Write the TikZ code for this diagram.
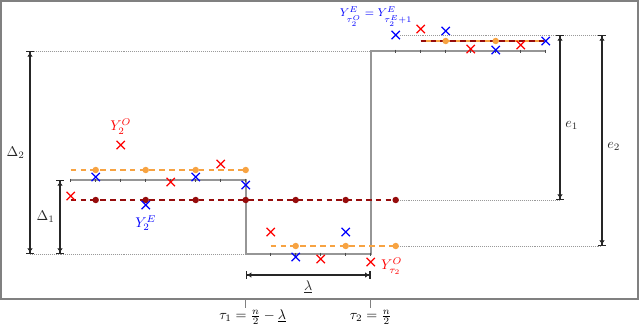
\documentclass[tikz,border=0pt]{standalone}
\usetikzlibrary{arrows.meta,shapes.misc,positioning}
\definecolor{estorange}{RGB}{247,163,66}
\definecolor{estred}{RGB}{150,12,12}
\definecolor{stepgray}{RGB}{150,150,150}
\tikzset{
  obsE/.style={cross out, draw=blue, line width=0.9pt, minimum size=5pt, inner sep=0pt},
  obsO/.style={cross out, draw=red, line width=0.9pt, minimum size=5pt, inner sep=0pt},
  gap/.style={{Bar[width=5pt]Latex[length=3pt,width=4pt]}-{Latex[length=3pt,width=4pt]Bar[width=5pt]}, line width=1pt, black!85},
  guide/.style={densely dotted, gray!80, line width=0.4pt},
  estline/.style={dash pattern=on 4pt off 3pt, line width=1pt},
}
\begin{document}
\begin{tikzpicture}[x=0.025cm, y=-0.025cm]
\useasboundingbox (0,0) rectangle (640,325);
\draw[gray, line width=0.8pt] (1,1) rectangle (638,299);

\coordinate (d2a) at (30,51);
\coordinate (d2b) at (30,254);
\coordinate (d1a) at (60,180);
\coordinate (d1b) at (60,254);
\coordinate (t1) at (245.7,299);
\coordinate (t2) at (370.7,299);
\coordinate (la) at (245.7,275);
\coordinate (lb) at (370.7,275);
\coordinate (ea) at (560,35);
\coordinate (eb) at (560,200);
\coordinate (fa) at (602,35);
\coordinate (fb) at (602,246);
\coordinate (redend) at (395.7,200);
\coordinate (orgend) at (395.7,246);

\draw[guide] (d2a) -- (370.7,51);
\draw[guide] (d2b) -- (245.7,254);
\draw[guide] (redend) -- (eb);
\draw[guide] (orgend) -- (fb);

\draw[stepgray, line width=1.3pt] (70.7,180) -- (245.7,180) -- (245.7,254) -- (370.7,254) -- (370.7,51) -- (545.7,51);
\foreach \i in {1,...,8} \draw[gray!60!black, line width=0.5pt] ({45.7+25*\i},178.5) -- ++(0,3);
\foreach \i in {9,...,13} \draw[gray!60!black, line width=0.5pt] ({45.7+25*\i},252.5) -- ++(0,3);
\foreach \i in {14,...,20} \draw[gray!60!black, line width=0.5pt] ({45.7+25*\i},49.5) -- ++(0,3);

\draw[estorange, estline] (70.7,170) -- (245.7,170);
\draw[estorange, estline] (270.7,246) -- (orgend);
\draw[estred, estline] (70.7,200) -- (redend);
\draw[estorange, line width=1pt] (420.7,41) -- (545.7,41);
\draw[estred, estline] (420.7,41) -- (545.7,41);
\foreach \i in {2,4,...,14} \fill[estred] ({45.7+25*\i},200) circle (2.3pt);
\foreach \i in {2,4,6,8} \fill[estorange] ({45.7+25*\i},170) circle (2.3pt);
\foreach \i in {10,12,14} \fill[estorange] ({45.7+25*\i},246) circle (2.3pt);
\foreach \i in {16,18} \fill[estorange] ({45.7+25*\i},41) circle (2.3pt);

\foreach \i/\y in {2/177,4/205,6/177,8/185,10/257,12/232,14/35,16/31,18/50,20/41}
  \node[obsE] (e\i) at ({45.7+25*\i},\y) {};
\foreach \i/\y in {1/196,3/145,5/182,7/164,9/232,11/259,13/262,15/29,17/49,19/45}
  \node[obsO] (o\i) at ({45.7+25*\i},\y) {};

\draw[guide] (e14) -- (fa);

\node[blue, below=1pt of e4] {$Y_2^E$};
\node[red, above=1pt of o3] {$Y_2^O$};
\node[red, right=1pt of o13, yshift=-3pt] {$Y^O_{\tau_2}$};
\node[blue, font=\footnotesize] at (376,17) {$Y^E_{\tau_2^O}=Y^E_{\tau_2^E+1}$};

\draw[gap] (d2a) -- node[left] {$\Delta_2$} (d2b);
\draw[gap] (d1a) -- node[left] {$\Delta_1$} (d1b);
\draw[gap] (ea) -- node[right, pos=0.55] {$e_1$} (eb);
\draw[gap] (fa) -- node[right, pos=0.53] {$e_2$} (fb);
\draw[gap] (la) -- node[below] {$\underline{\lambda}$} (lb);

\draw[gray, line width=0.8pt] (t1) -- ++(0,9) node[below, black, inner sep=1pt, xshift=5pt] {$\tau_1=\frac{n}{2}-\underline{\lambda}$};
\draw[gray, line width=0.8pt] (t2) -- ++(0,9) node[below, black, inner sep=1pt] {$\tau_2=\frac{n}{2}$};
\end{tikzpicture}
\end{document}
